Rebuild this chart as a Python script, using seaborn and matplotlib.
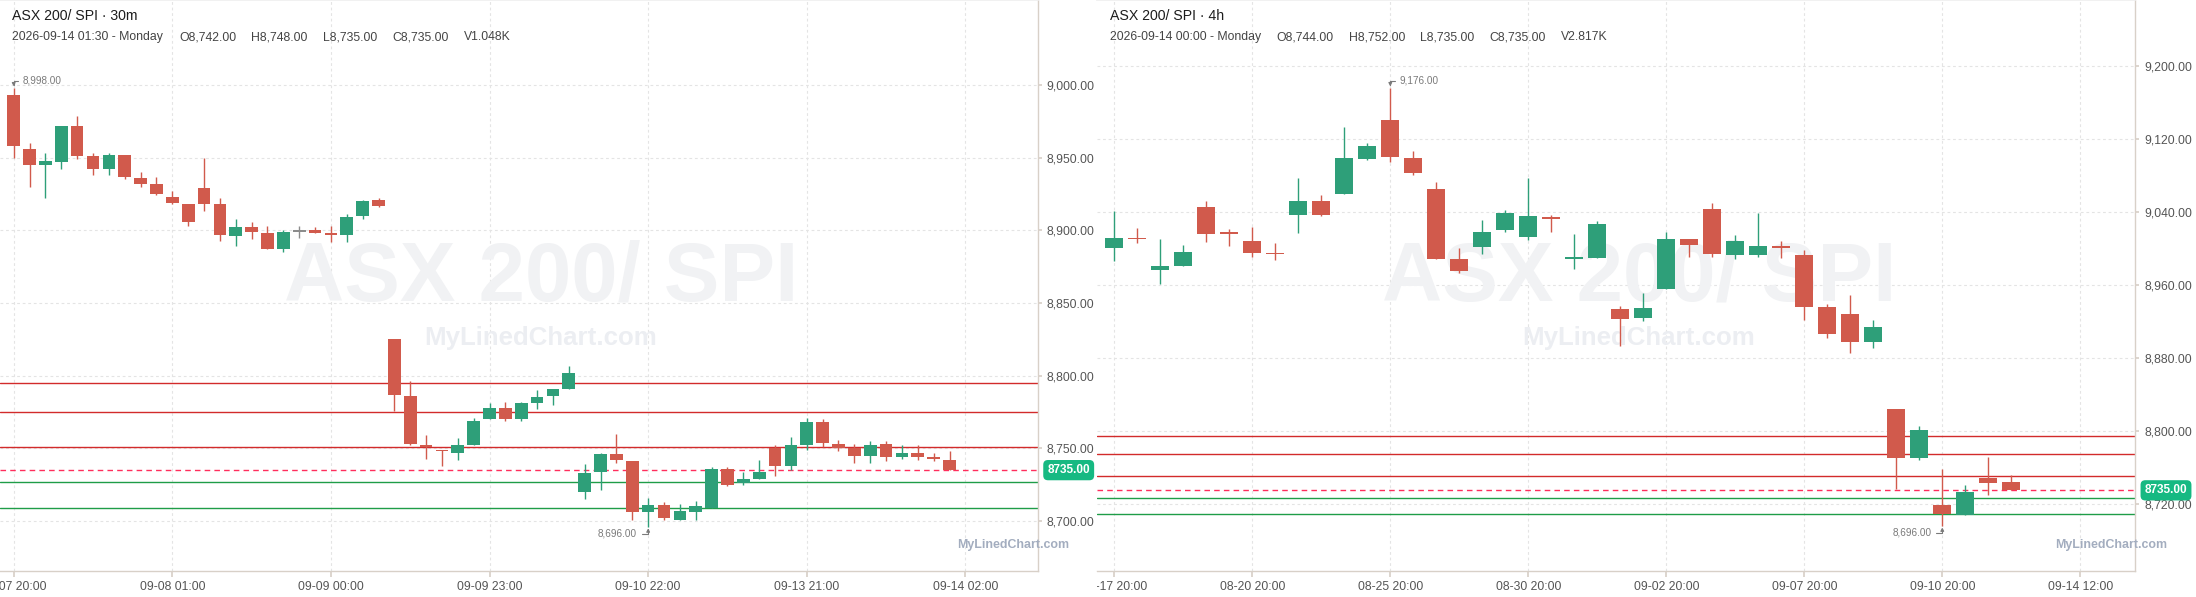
import numpy as np
import pandas as pd
import matplotlib
matplotlib.use("Agg")
import matplotlib.pyplot as plt
import matplotlib.transforms as mtransforms
import seaborn as sns
from matplotlib.patches import Rectangle
from matplotlib.ticker import FuncFormatter, FixedLocator

# ---- 30m candles (ASX 200 / SPI) ----
m30_open = [8993, 8956, 8945, 8947, 8972, 8951, 8942, 8952, 8936, 8932,
            8923, 8918, 8929, 8918, 8896, 8902, 8898, 8887, 8899, 8900,
            8898, 8897, 8910, 8921, 8825, 8786, 8752, 8749, 8747, 8752,
            8770, 8778, 8770, 8781, 8786, 8791, 8720, 8734, 8746, 8741,
            8706, 8711, 8701, 8706, 8709, 8736, 8726, 8729, 8750, 8738,
            8752, 8768, 8753, 8750, 8745, 8753, 8744, 8747, 8744, 8742]
m30_high = [8998, 8960, 8953, 8972, 8979, 8953, 8953, 8952, 8940, 8937,
            8927, 8918, 8950, 8922, 8908, 8906, 8903, 8900, 8903, 8902,
            8903, 8911, 8921, 8922, 8825, 8796, 8759, 8749, 8757, 8771,
            8781, 8782, 8782, 8790, 8791, 8807, 8739, 8747, 8760, 8741,
            8716, 8713, 8712, 8714, 8737, 8737, 8734, 8742, 8752, 8758,
            8771, 8770, 8756, 8753, 8755, 8755, 8752, 8752, 8747, 8748]
m30_low = [8950, 8930, 8922, 8942, 8949, 8938, 8938, 8935, 8930, 8924,
           8918, 8903, 8913, 8893, 8889, 8894, 8887, 8885, 8895, 8898,
           8892, 8892, 8908, 8916, 8776, 8752, 8743, 8738, 8742, 8752,
           8770, 8769, 8769, 8777, 8780, 8791, 8715, 8721, 8740, 8701,
           8696, 8701, 8701, 8701, 8709, 8724, 8725, 8729, 8731, 8735,
           8749, 8751, 8748, 8740, 8740, 8741, 8743, 8742, 8741, 8735]
m30_close = [8958, 8945, 8948, 8972, 8951, 8942, 8952, 8937, 8932, 8925,
             8919, 8906, 8918, 8897, 8902, 8899, 8887, 8899, 8899, 8898,
             8897, 8909, 8920, 8917, 8787, 8753, 8751, 8748, 8752, 8769,
             8778, 8770, 8781, 8785, 8791, 8802, 8733, 8746, 8742, 8706,
             8711, 8702, 8707, 8710, 8736, 8725, 8729, 8734, 8738, 8752,
             8768, 8754, 8750, 8745, 8752, 8744, 8747, 8744, 8743, 8735]
m30_labels = ["09-07 20:00", "09-08 01:00", "09-09 00:00", "09-09 23:00",
              "09-10 22:00", "09-13 21:00", "09-14 02:00"]
m30_yticks = [8700, 8750, 8800, 8850, 8900, 8950, 9000]

# ---- 4h candles ----
h4_open = [9000, 9012, 8976, 8981, 9045, 9017, 9008, 8995, 9037, 9052,
           9060, 9098, 9141, 9099, 9065, 8988, 9002, 9020, 9013, 9034,
           8989, 8990, 8934, 8924, 8956, 9010, 9043, 8993, 8993, 9003,
           8993, 8936, 8928, 8898, 8824, 8770, 8719, 8708, 8749, 8744]
h4_high = [9041, 9022, 9010, 9004, 9052, 9021, 9024, 9006, 9077, 9059,
           9133, 9116, 9176, 9107, 9073, 9000, 9031, 9042, 9077, 9037,
           9016, 9030, 8937, 8951, 9018, 9010, 9050, 9015, 9039, 9008,
           8998, 8939, 8949, 8922, 8824, 8805, 8758, 8741, 8771, 8752]
h4_low = [8986, 9006, 8961, 8981, 9007, 9003, 8991, 8987, 9017, 9036,
          9060, 9097, 9095, 9080, 8988, 8973, 8994, 9018, 9009, 9018,
          8978, 8990, 8893, 8921, 8956, 8991, 8991, 8989, 8991, 8990,
          8922, 8902, 8885, 8891, 8737, 8768, 8696, 8708, 8730, 8735]
h4_close = [9012, 9010, 8981, 8996, 9016, 9016, 8995, 8994, 9052, 9037,
            9099, 9112, 9100, 9083, 8988, 8975, 9018, 9039, 9036, 9032,
            8990, 9027, 8923, 8935, 9010, 9004, 8994, 9008, 9003, 9000,
            8936, 8906, 8898, 8914, 8770, 8801, 8709, 8733, 8743, 8735]
h4_labels = ["08-17 20:00", "08-20 20:00", "08-25 20:00", "08-30 20:00",
             "09-02 20:00", "09-07 20:00", "09-10 20:00", "09-14 12:00"]
h4_yticks = [8720, 8800, 8880, 8960, 9040, 9120, 9200]

# horizontal levels
resistance = [8795, 8775, 8751]
support = [8727, 8709]
last_price = 8735
m30_volume = "V1.048K"
h4_volume = "V2.817K"
m30_stamp = "2026-09-14 01:30 - Monday"
h4_stamp = "2026-09-14 00:00 - Monday"

UP = "#2e9f79"
DOWN = "#d15a4c"
FLAT = "#8c8c8c"
AXIS = "#d8d0c8"
TXT = "#555555"

sns.set_theme(style="white")
plt.rcParams["font.family"] = ["Liberation Sans", "DejaVu Sans"]

W, H = 2196, 597
fig = plt.figure(figsize=(W / 100, H / 100), dpi=100)
ax1 = fig.add_axes([0, 26 / H, 1037.7 / W, 571 / H])
ax2 = fig.add_axes([1097 / W, 26 / H, 1038 / W, 571 / H])


def candles(ax, o, h, l, c, min_h):
    df = pd.DataFrame({"open": o, "high": h, "low": l, "close": c})
    df["x"] = np.arange(len(df))
    df["color"] = np.where(df.close > df.open, UP,
                           np.where(df.close < df.open, DOWN, FLAT))
    ax.vlines(df.x, df.low, df.high, colors=df.color, lw=1.0, zorder=3)
    bottom = df[["open", "close"]].min(axis=1)
    height = (df.close - df.open).abs().clip(lower=min_h)
    ax.bar(df.x, height, 0.8, bottom=bottom, color=df.color, lw=0, zorder=4)
    return df


def style(ax, n_labels, step, labels, yticks, xlim, ylim, title, ohlc, vol, stamp, wm_x):
    ax.set_xlim(*xlim)
    ax.set_ylim(*ylim)
    ax.xaxis.set_major_locator(FixedLocator([i * step for i in range(n_labels)]))
    ax.set_xticklabels(labels)
    ax.yaxis.tick_right()
    ax.yaxis.set_major_locator(FixedLocator(yticks))
    ax.yaxis.set_major_formatter(FuncFormatter(lambda v, p: f"{v:,.2f}"))
    ax.grid(True, color="#e4e4e4", linestyle=(0, (2.5, 2.5)), lw=0.8)
    ax.set_axisbelow(True)
    ax.spines["left"].set_visible(False)
    ax.spines["top"].set_color("#efefef")
    for s in ["right", "bottom"]:
        ax.spines[s].set_color(AXIS)
        ax.spines[s].set_linewidth(1.0)
    ax.tick_params(axis="x", length=4, color=AXIS, pad=3.2, labelsize=8.7,
                   labelcolor=TXT, bottom=True)
    ax.tick_params(axis="y", length=3, color=AXIS, pad=3.6, labelsize=8.7,
                   labelcolor=TXT, right=True, left=False)

    for lv in resistance:
        ax.axhline(lv, color="#d22b2b", lw=1.0, zorder=2)
    for lv in support:
        ax.axhline(lv, color="#1f9d48", lw=1.0, zorder=2)
    ax.axhline(last_price, color="#ff2e5c", lw=1.0, ls=(0, (4, 3)), zorder=2)

    # watermarks
    ax.text(wm_x, 0.4746, "ASX 200/ SPI", transform=ax.transAxes, ha="center",
            va="baseline", fontsize=60, fontweight="bold", color="#f1f2f4", zorder=1)
    ax.text(wm_x, 0.3958, "MyLinedChart.com", transform=ax.transAxes, ha="center",
            va="baseline", fontsize=18.6, fontweight="bold", color="#eceef2", zorder=1)
    ax.text(1.0305, 0.0403, "MyLinedChart.com", transform=ax.transAxes, ha="right",
            va="baseline", fontsize=8.9, fontweight="bold", color="#a3adbf",
            clip_on=False, zorder=6)

    # header
    wpx = ax.get_position().width * W
    ax.text(12.5 / wpx, 0.972, title, transform=ax.transAxes, va="center",
            fontsize=10.2, color="#1d1d1d")
    o, h, l, c = ohlc
    items = [stamp, f"O{o:,.2f}", f"H{h:,.2f}", f"L{l:,.2f}", f"C{c:,.2f}", vol]
    for px, s in zip([12.5, 179, 251.5, 323, 392, 463.5], items):
        ax.text(px / wpx, 0.935, s, transform=ax.transAxes, va="center",
                fontsize=8.8, color="#444444")

    # last price badge
    tr = mtransforms.blended_transform_factory(ax.transAxes, ax.transData)
    ax.text(1 + 31 / wpx, last_price, f"{last_price:.2f}", transform=tr,
            ha="center", va="center", fontsize=8.5, fontweight="bold",
            color="white", clip_on=False, zorder=7,
            bbox=dict(boxstyle="round,pad=0.35,rounding_size=0.4",
                      fc="#16b982", ec="none"))


def hi_lo(ax, df, dy):
    hi = df.high.idxmax()
    lo = df.low.idxmin()
    arrow = dict(arrowstyle="-|>", connectionstyle="angle,angleA=0,angleB=90,rad=0",
                 color="#7a7a7a", lw=0.8, mutation_scale=5, shrinkA=1, shrinkB=1)
    ax.annotate(f"{df.high[hi]:,.2f}", xy=(hi, df.high[hi]), xytext=(9, dy),
                textcoords="offset pixels", ha="left", va="center", fontsize=7.2,
                color="#7a7a7a", arrowprops=dict(arrow, relpos=(0, 0.5)), zorder=6)
    ax.annotate(f"{df.low[lo]:,.2f}", xy=(lo, df.low[lo]), xytext=(-11, -dy),
                textcoords="offset pixels", ha="right", va="center", fontsize=7.2,
                color="#7a7a7a", arrowprops=dict(arrow, relpos=(1, 0.5)), zorder=6)


d1 = candles(ax1, m30_open, m30_high, m30_low, m30_close, 1.0)
style(ax1, len(m30_labels), 10, m30_labels, m30_yticks, (-0.864, 64.56),
      (8665.6, 9058.5), "ASX 200/ SPI \u00b7 30m",
      (m30_open[-1], m30_high[-1], m30_low[-1], m30_close[-1]), m30_volume,
      m30_stamp, 0.521)
hi_lo(ax1, d1, 7)

d2 = candles(ax2, h4_open, h4_high, h4_low, h4_close, 1.6)
style(ax2, len(h4_labels), 6, h4_labels, h4_yticks, (-0.752, 44.38),
      (8646.6, 9272.3), "ASX 200/ SPI \u00b7 4h",
      (h4_open[-1], h4_high[-1], h4_low[-1], h4_close[-1]), h4_volume,
      h4_stamp, 0.522)
hi_lo(ax2, d2, 7)

# hide the part of the first 4h date label that spills into the 30m panel
fig.add_artist(Rectangle((1040 / W, 0), 57 / W, 25 / H, transform=fig.transFigure,
                         fc="white", ec="none", zorder=5))

fig.savefig("out.png", dpi=100, facecolor="white")
